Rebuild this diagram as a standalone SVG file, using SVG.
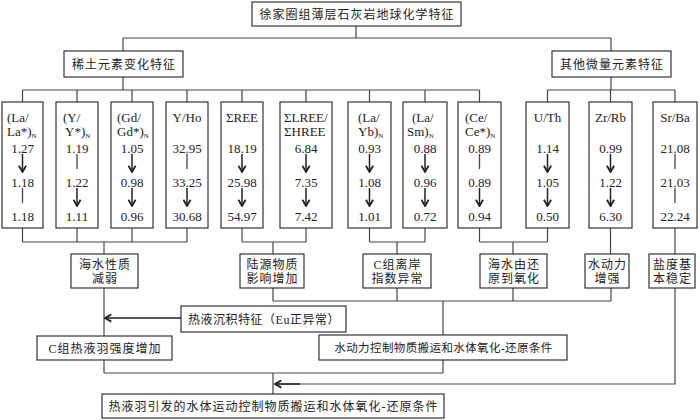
<svg xmlns="http://www.w3.org/2000/svg" width="700" height="420" viewBox="0 0 700 420">
<defs>
<marker id="ah" viewBox="0 0 10 10" refX="9" refY="5" markerWidth="9" markerHeight="9" markerUnits="userSpaceOnUse" orient="auto">
<path d="M2,1 L9,5 L2,9" fill="none" stroke="#222" stroke-width="2"/>
</marker>
</defs>
<style>
.box{fill:#fff;stroke:#333;stroke-width:1.2}
.ln{fill:none;stroke:#444;stroke-width:1.2}
.ar{fill:none;stroke:#222;stroke-width:1.5;marker-end:url(#ah)}
.pl{fill:none;stroke:#444;stroke-width:1.3}
.zh{font-family:"Liberation Serif","Noto Sans CJK SC",serif;font-size:12px;letter-spacing:1px;fill:#222;text-anchor:middle}
.num{font-family:"Liberation Serif",serif;font-size:13px;fill:#222;text-anchor:middle}
.hd{font-family:"Liberation Serif",serif;font-size:13px;fill:#222}
.sub{font-size:7px}
</style>
<rect width="700" height="420" fill="#fff"/>

<g id="connectors">
<path class="ln" d="M356,26 V38 M123,38 H611 M123,38 V51 M611,38 V51"/>
<path class="ln" d="M123,77 V90 M22.5,90 H479.5 M22.5,90 V102 M77,90 V102 M132,90 V102 M187,90 V102 M242,90 V102 M306,90 V102 M369.5,90 V102 M425,90 V102 M479.5,90 V102"/>
<path class="ln" d="M611,77 V90 M547.5,90 H675 M547.5,90 V102 M610.5,90 V102 M675,90 V102"/>
<path class="ln" d="M22.5,228 V242 M77,228 V242 M132,228 V242 M187,228 V242 M22.5,242 H187 M104,242 V254"/>
<path class="ln" d="M242,228 V242 M306,228 V242 M242,242 H306 M273,242 V254"/>
<path class="ln" d="M369.5,228 V242 M425,228 V242 M369.5,242 H425 M397,242 V254"/>
<path class="ln" d="M479.5,228 V242 M547.5,228 V242 M479.5,242 H547.5 M513,242 V254"/>
<path class="ln" d="M610.5,228 V254 M675,228 V254"/>
<path class="ln" d="M104,288 V336"/>
<path class="ln" d="M273,288 V301 M397,288 V301 M513,288 V301 M611,288 V301 M273,301 H611 M443,301 V335"/>
<path class="ar" d="M181,318 H105"/>
<path class="ln" d="M104,360 V373 M104,373 H443 M443,360 V373 M273,373 V394"/>
<path class="ln" d="M675,288 V384 H276"/>
<path class="ar" d="M300,384 H275"/>
</g>

<g id="title">
<rect class="box" x="252" y="2" width="209" height="24"/>
<text class="zh" x="357" y="18.5">徐家圈组薄层石灰岩地球化学特征</text>
</g>
<g id="ree">
<rect class="box" x="64" y="51" width="119" height="26"/>
<text class="zh" x="124" y="68.5">稀土元素变化特征</text>
</g>
<g id="trace">
<rect class="box" x="552" y="51" width="119" height="26"/>
<text class="zh" x="612" y="68.5">其他微量元素特征</text>
</g>

<g id="c1">
<rect class="box" x="2" y="102" width="41" height="126"/>
<text class="hd" x="7" y="122">(La/</text>
<text class="hd" x="7" y="136">La*)<tspan class="sub" dy="2">N</tspan></text>
<text class="num" x="22.5" y="152.5">1.27</text>
<text class="num" x="22.5" y="186.5">1.18</text>
<text class="num" x="22.5" y="220.5">1.18</text>
<path class="ar" d="M22.5,154 V172"/>
<path class="pl" d="M22.5,188 V203"/>
</g>
<g id="c2">
<rect class="box" x="56" y="102" width="42" height="126"/>
<text class="hd" x="63" y="122">(Y/</text>
<text class="hd" x="65" y="136">Y*)<tspan class="sub" dy="2">N</tspan></text>
<text class="num" x="77" y="152.5">1.19</text>
<text class="num" x="77" y="186.5">1.22</text>
<text class="num" x="77" y="220.5">1.11</text>
<path class="pl" d="M77,154 V169"/>
<path class="ar" d="M77,188 V206"/>
</g>
<g id="c3">
<rect class="box" x="111" y="102" width="42" height="126"/>
<text class="hd" x="117" y="122">(Gd/</text>
<text class="hd" x="117" y="136">Gd*)<tspan class="sub" dy="2">N</tspan></text>
<text class="num" x="132" y="152.5">1.05</text>
<text class="num" x="132" y="186.5">0.98</text>
<text class="num" x="132" y="220.5">0.96</text>
<path class="ar" d="M132,154 V172"/>
<path class="ar" d="M132,188 V206"/>
</g>
<g id="c4">
<rect class="box" x="166" y="102" width="42" height="126"/>
<text class="num" x="187" y="122">Y/Ho</text>
<text class="num" x="187" y="152.5">32.95</text>
<text class="num" x="187" y="186.5">33.25</text>
<text class="num" x="187" y="220.5">30.68</text>
<path class="pl" d="M187,154 V169"/>
<path class="ar" d="M187,188 V206"/>
</g>
<g id="c5">
<rect class="box" x="221" y="102" width="42" height="126"/>
<text class="num" x="242" y="122">ΣREE</text>
<text class="num" x="242" y="152.5">18.19</text>
<text class="num" x="242" y="186.5">25.98</text>
<text class="num" x="242" y="220.5">54.97</text>
<path class="ar" d="M242,154 V172"/>
<path class="ar" d="M242,188 V206"/>
</g>
<g id="c6">
<rect class="box" x="280" y="102" width="52" height="126"/>
<text class="hd" x="284" y="122">ΣLREE/</text>
<text class="hd" x="284" y="136">ΣHREE</text>
<text class="num" x="306" y="152.5">6.84</text>
<text class="num" x="306" y="186.5">7.35</text>
<text class="num" x="306" y="220.5">7.42</text>
<path class="ar" d="M306,154 V172"/>
<path class="ar" d="M306,188 V206"/>
</g>
<g id="c7">
<rect class="box" x="348" y="102" width="43" height="126"/>
<text class="hd" x="358" y="122">(La/</text>
<text class="hd" x="358" y="136">Yb)<tspan class="sub" dy="2">N</tspan></text>
<text class="num" x="369.5" y="152.5">0.93</text>
<text class="num" x="369.5" y="186.5">1.08</text>
<text class="num" x="369.5" y="220.5">1.01</text>
<path class="ar" d="M369.5,154 V172"/>
<path class="ar" d="M369.5,188 V206"/>
</g>
<g id="c8">
<rect class="box" x="403" y="102" width="44" height="126"/>
<text class="hd" x="412" y="122">(La/</text>
<text class="hd" x="407" y="136">Sm)<tspan class="sub" dy="2">N</tspan></text>
<text class="num" x="425" y="152.5">0.88</text>
<text class="num" x="425" y="186.5">0.96</text>
<text class="num" x="425" y="220.5">0.72</text>
<path class="ar" d="M425,154 V172"/>
<path class="ar" d="M425,188 V206"/>
</g>
<g id="c9">
<rect class="box" x="458" y="102" width="43" height="126"/>
<text class="hd" x="465" y="122">(Ce/</text>
<text class="hd" x="465" y="136">Ce*)<tspan class="sub" dy="2">N</tspan></text>
<text class="num" x="479.5" y="152.5">0.89</text>
<text class="num" x="479.5" y="186.5">0.89</text>
<text class="num" x="479.5" y="220.5">0.94</text>
<path class="pl" d="M479.5,154 V169"/>
<path class="ar" d="M479.5,188 V206"/>
</g>
<g id="c10">
<rect class="box" x="526" y="102" width="43" height="126"/>
<text class="num" x="547.5" y="122">U/Th</text>
<text class="num" x="547.5" y="152.5">1.14</text>
<text class="num" x="547.5" y="186.5">1.05</text>
<text class="num" x="547.5" y="220.5">0.50</text>
<path class="ar" d="M547.5,154 V172"/>
<path class="ar" d="M547.5,188 V206"/>
</g>
<g id="c11">
<rect class="box" x="589" y="102" width="43" height="126"/>
<text class="num" x="610.5" y="122">Zr/Rb</text>
<text class="num" x="610.5" y="152.5">0.99</text>
<text class="num" x="610.5" y="186.5">1.22</text>
<text class="num" x="610.5" y="220.5">6.30</text>
<path class="ar" d="M610.5,154 V172"/>
<path class="ar" d="M610.5,188 V206"/>
</g>
<g id="c12">
<rect class="box" x="653" y="102" width="44" height="126"/>
<text class="num" x="675" y="122">Sr/Ba</text>
<text class="num" x="675" y="152.5">21.08</text>
<text class="num" x="675" y="186.5">21.03</text>
<text class="num" x="675" y="220.5">22.24</text>
<path class="pl" d="M675,154 V169"/>
<path class="pl" d="M675,188 V203"/>
</g>

<g id="r1">
<rect class="box" x="71" y="254" width="67" height="34"/>
<text class="zh" x="105" y="269">海水性质</text>
<text class="zh" x="105" y="283">减弱</text>
</g>
<g id="r2">
<rect class="box" x="240" y="254" width="64" height="34"/>
<text class="zh" x="272.5" y="269">陆源物质</text>
<text class="zh" x="272.5" y="283">影响增加</text>
</g>
<g id="r3">
<rect class="box" x="363" y="254" width="68" height="34"/>
<text class="zh" x="397.5" y="269">C组离岸</text>
<text class="zh" x="397.5" y="283">指数异常</text>
</g>
<g id="r4">
<rect class="box" x="480" y="254" width="67" height="34"/>
<text class="zh" x="514" y="269">海水由还</text>
<text class="zh" x="514" y="283">原到氧化</text>
</g>
<g id="r5">
<rect class="box" x="585" y="254" width="44" height="34"/>
<text class="zh" x="607.5" y="269">水动力</text>
<text class="zh" x="607.5" y="283">增强</text>
</g>
<g id="r6">
<rect class="box" x="649" y="254" width="46" height="34"/>
<text class="zh" x="672.5" y="269">盐度基</text>
<text class="zh" x="672.5" y="283">本稳定</text>
</g>

<g id="hydro">
<rect class="box" x="181" y="306" width="165" height="26"/>
<text class="zh" x="264" y="323.5" style="letter-spacing:0.5px">热液沉积特征（Eu正异常）</text>
</g>
<g id="plume">
<rect class="box" x="37" y="336" width="135" height="24"/>
<text class="zh" x="105" y="352.5">C组热液羽强度增加</text>
</g>
<g id="dyn">
<rect class="box" x="319" y="335" width="248" height="25"/>
<text class="zh" x="443.5" y="352" style="font-size:11.5px;letter-spacing:0.4px">水动力控制物质搬运和水体氧化-还原条件</text>
</g>
<g id="final">
<rect class="box" x="102" y="394" width="342" height="24"/>
<text class="zh" x="273.5" y="410.5">热液羽引发的水体运动控制物质搬运和水体氧化-还原条件</text>
</g>
</svg>
